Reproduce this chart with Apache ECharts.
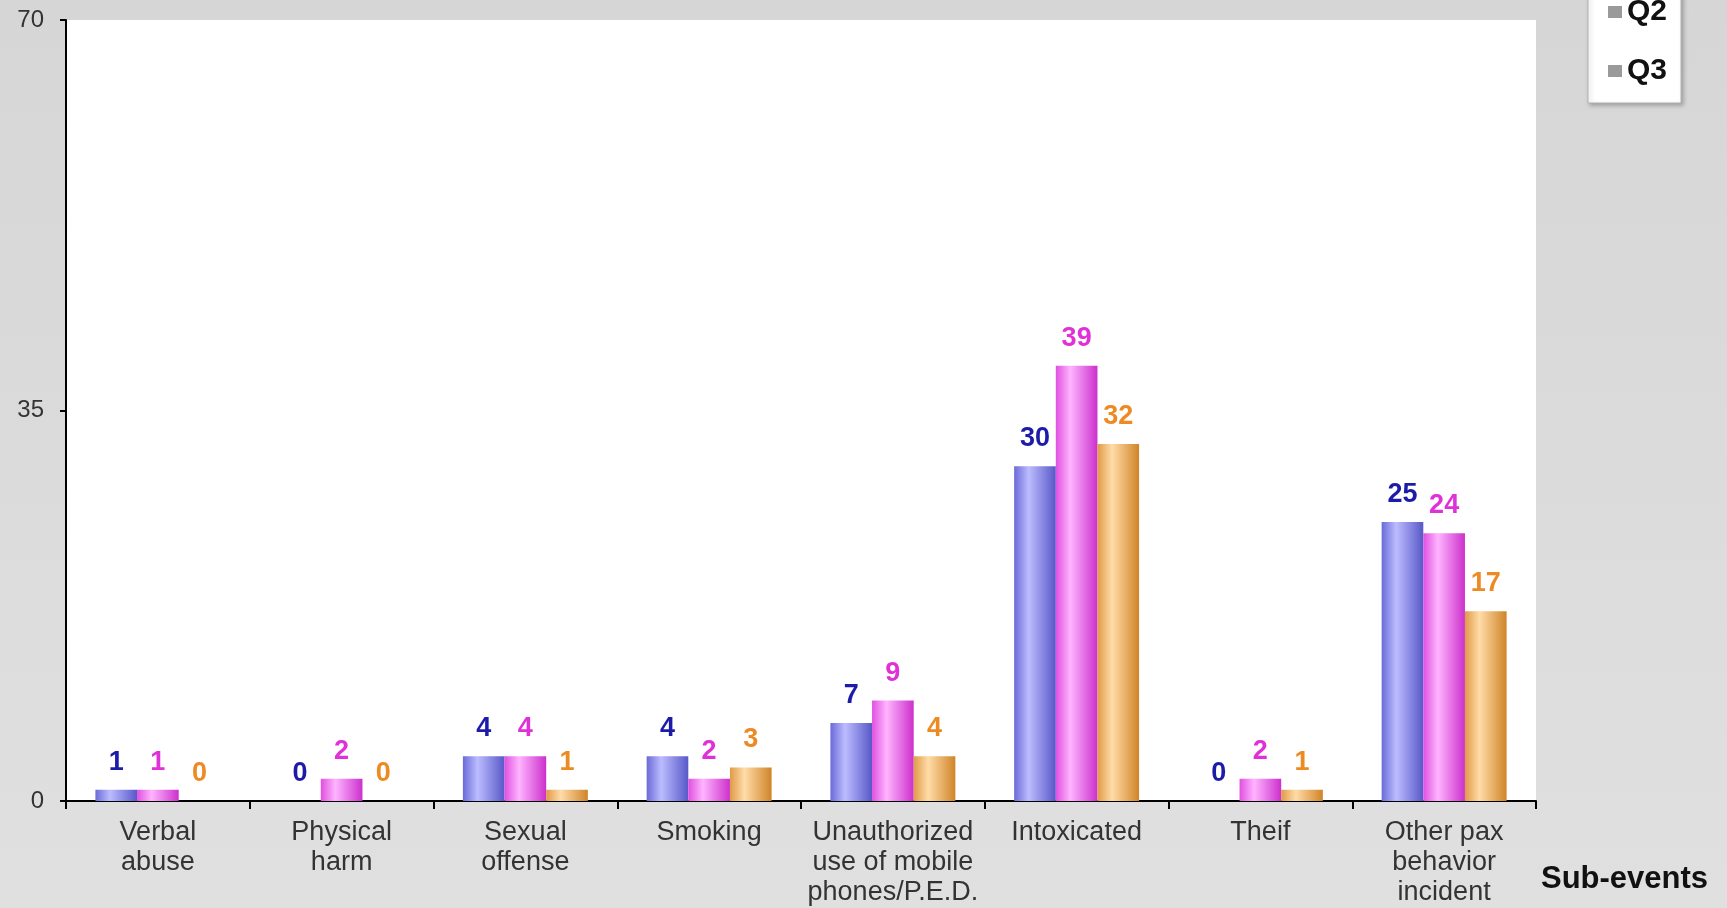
<!DOCTYPE html>
<html><head><meta charset="utf-8">
<script src="https://cdn.jsdelivr.net/npm/echarts@6/dist/echarts.min.js"></script>
<style>html,body{margin:0;padding:0;background:#dadada;}#c{width:1727px;height:908px;}</style>
</head><body><div id="c"></div>
<script>
var categories = ["Verbal\nabuse","Physical\nharm","Sexual\noffense","Smoking","Unauthorized\nuse of mobile\nphones/P.E.D.","Intoxicated","Theif","Other pax\nbehavior\nincident"];
var seriesNames = ["Q1","Q2","Q3"];
var q1 = [1,0,4,4,7,30,0,25];
var q2 = [1,2,4,2,9,39,2,24];
var q3 = [0,0,1,3,4,32,1,17];
var yTicks = [0,35,70];

var font = "'Liberation Sans', Arial, sans-serif";
function grad(a,b,c){return new echarts.graphic.LinearGradient(0,0,1,0,[{offset:0,color:a},{offset:0.35,color:b},{offset:1,color:c}]);}
var barStyles = [
  grad('#6a6ad8','#bcbcff','#5858c8'),
  grad('#e050e0','#ffb4ff','#cc30cc'),
  grad('#e09a48','#ffdca8','#d08428')
];
var labelColors = ['#1c1ca8','#e030d8','#ee8a22'];
var datas = [q1,q2,q3];
var chart = echarts.init(document.getElementById('c'));
chart.setOption({
  backgroundColor: new echarts.graphic.LinearGradient(0,0,0,1,[{offset:0,color:'#d6d6d6'},{offset:1,color:'#e0e0e0'}]),
  animation:false,
  grid:{left:66,right:191,top:20,bottom:107,show:true,backgroundColor:'#ffffff',borderWidth:0},
  legend:{
    orient:'vertical', left:1588, top:-79, padding:[16,14,16,20],
    backgroundColor:'#ffffff', borderColor:'#b0b0b0', borderWidth:1,
    shadowColor:'rgba(0,0,0,0.25)', shadowBlur:4, shadowOffsetX:2, shadowOffsetY:2,
    itemWidth:14, itemHeight:12, itemGap:27,
    textStyle:{fontFamily:font,fontSize:30,fontWeight:'bold',color:'#111',lineHeight:32},
    data: seriesNames.map(function(n){return {name:n,icon:'rect',itemStyle:{color:'#9a9a9a'}};})
  },
  xAxis:{
    type:'category', data:categories,
    axisLine:{lineStyle:{color:'#000',width:2}},
    axisTick:{show:true,length:8,lineStyle:{color:'#000',width:2}},
    axisLabel:{fontFamily:font,fontSize:27,color:'#333',lineHeight:30,margin:17,interval:0}
  },
  yAxis:{
    type:'value', min:yTicks[0], max:yTicks[2], interval:yTicks[1]-yTicks[0],
    axisLine:{show:true,lineStyle:{color:'#000',width:2}},
    axisTick:{show:true,length:6,lineStyle:{color:'#000',width:2}},
    splitLine:{show:false},
    axisLabel:{fontFamily:font,fontSize:24,color:'#333',margin:22}
  },
  graphic:[{type:'text',left:1541,top:864,style:{text:'Sub-events',font:"bold 31px 'Liberation Sans', Arial, sans-serif",fill:'#111'}}],
  series: seriesNames.map(function(n,i){
    return {
      name:n, type:'bar', data:datas[i], barGap:'0%', barCategoryGap:'32%',
      itemStyle:{color:barStyles[i]},
      label:{show:true,position:'top',distance:14,fontFamily:font,fontSize:27,fontWeight:'bold',color:labelColors[i]}
    };
  })
});
</script></body></html>
